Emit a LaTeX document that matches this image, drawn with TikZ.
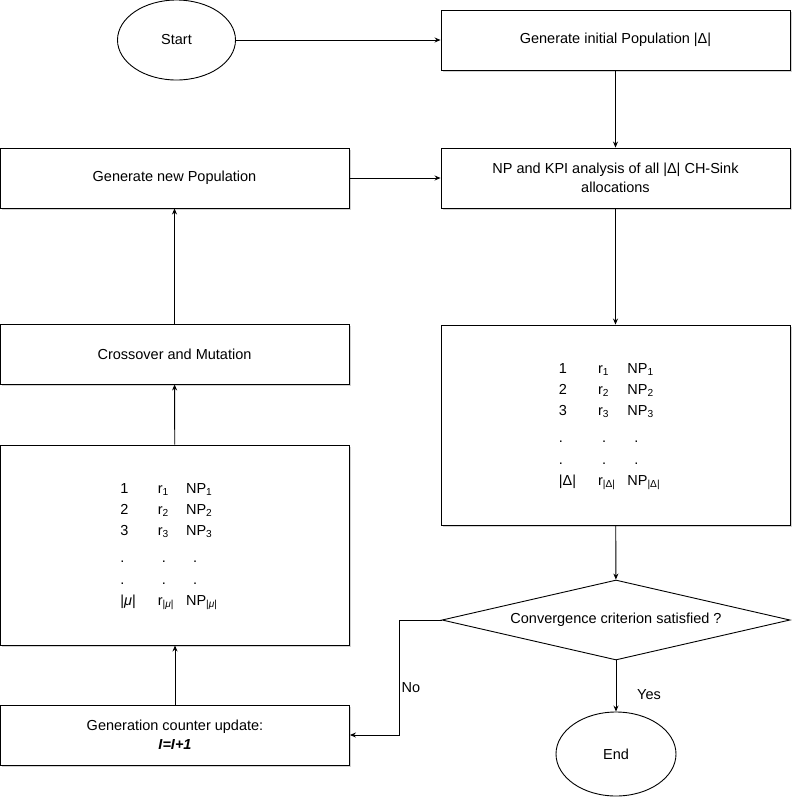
\documentclass[tikz,border=0pt]{standalone}
\usepackage{fontspec}
\setmainfont{Liberation Sans}
\usetikzlibrary{shapes.geometric,arrows.meta,shadows}

\tikzset{
  box/.style={draw,rectangle,fill=white,minimum width=349pt,minimum height=60pt,align=center,
    drop shadow={shadow xshift=1.5pt,shadow yshift=-1.5pt,opacity=0.35}},
  bigbox/.style={box,minimum height=200pt},
  term/.style={draw,ellipse,fill=white,minimum width=118pt,minimum height=80pt},
  decide/.style={draw,diamond,fill=white,aspect=4.35,minimum width=348pt,minimum height=80pt,inner sep=0pt},
  arr/.style={-{Stealth[length=6pt,width=5pt]}}
}

\newcommand{\poptab}[1]{%
  \renewcommand{\arraystretch}{1.12}%
  \begin{tabular}{@{}l@{\hspace{22pt}}l@{\hspace{12pt}}l@{\hspace{12pt}}}
    1 & r\textsubscript{1} & NP\textsubscript{1}\\
    2 & r\textsubscript{2} & NP\textsubscript{2}\\
    3 & r\textsubscript{3} & NP\textsubscript{3}\\[6pt]
    . & \hspace{4pt}. & \hspace{7pt}.\\
    . & \hspace{4pt}. & \hspace{7pt}.\\
    #1 & r\textsubscript{#1} & NP\textsubscript{#1}
  \end{tabular}}

\begin{document}
\begin{tikzpicture}[x=1pt,y=-1pt,line width=0.9pt,font=\fontsize{14.5}{19}\selectfont]
		\useasboundingbox (0,0) rectangle (802,807);
		\node[term](start) at (176.5,40) {Start};
		\node[box](init) at (615.5,40) {Generate initial Population |Δ|};
		\node[box](npkpi) at (615.5,178) {NP and KPI analysis of all |Δ| CH-Sink\\allocations};
		\node[bigbox](tabr) at (615.5,425) {\poptab{|Δ|}};
		\node[decide](conv) at (616,620) {Convergence criterion satisfied ?};
		\node[term,minimum width=120pt,minimum height=84pt](end) at (616,754) {End};
		\node[box](newpop) at (174.5,178) {Generate new Population};
		\node[box](cross) at (174.5,354) {Crossover and Mutation};
		\node[bigbox](tabl) at (175,545) {\poptab{|\textit{μ}|}};
		\node[box](count) at (175,735) {Generation counter update:\\\textbf{\textit{I=I+1}}};
		\node(no) at (411,688) {No};
		\node(yes) at (649,695) {Yes};
		\draw[arr] (start)--(init);
		\draw[arr] (init)--(npkpi);
		\draw[arr] (npkpi)--(tabr);
		\draw[arr] (tabr)--(conv);
		\draw[arr] (conv)--(end);
		\draw[arr] (conv.west)--++(-42,0)|-(count.east);
		\draw[arr] (count)--(tabl);
		\draw[arr] (tabl)--(cross);
		\draw[arr] (cross)--(newpop);
		\draw[arr] (newpop)--(npkpi);
	\end{tikzpicture}
\end{document}
